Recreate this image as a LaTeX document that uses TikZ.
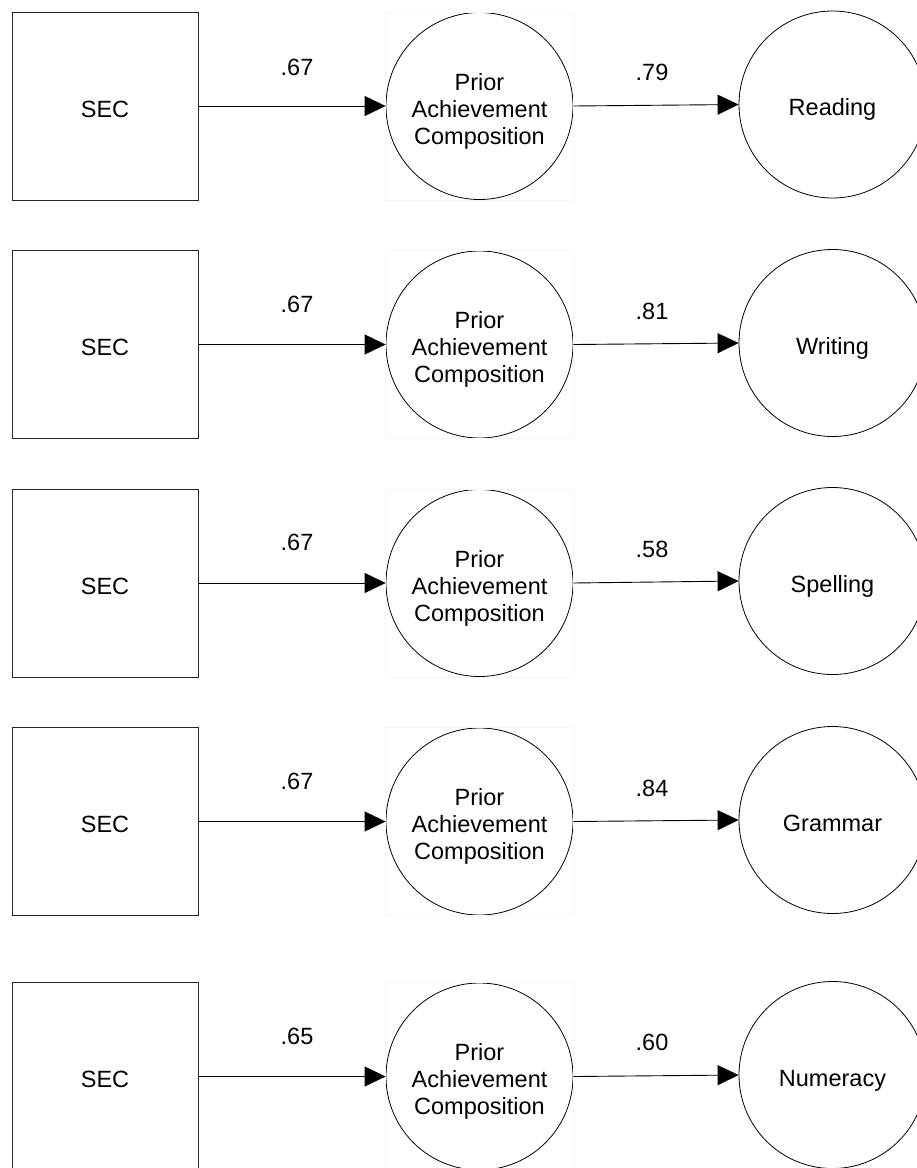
\documentclass[tikz,border=0pt]{standalone}
\usepackage{fontspec}
\setmainfont{Liberation Sans}
\usetikzlibrary{arrows.meta}
\newcommand{\lowtext}[1]{\raisebox{-6pt}[\height][\depth]{\begin{tabular}{@{}c@{}}#1\end{tabular}}}
\begin{document}
\begin{tikzpicture}[x=1pt,y=-1pt,
  every node/.style={font=\fontsize{23.5}{27}\selectfont, text=black},
  secbox/.style={draw=black!85, line width=0.9pt, minimum width=186pt, minimum height=188pt, inner sep=0pt},
  latent/.style={draw=black, circle, line width=0.8pt, minimum size=187pt, inner sep=0pt, align=center},
  faint/.style={draw=black!4, line width=0.8pt},
  path/.style={draw=black, line width=0.9pt, -{Triangle[length=21pt,width=20pt]}},
  coef/.style={font=\fontsize{23.5}{27}\selectfont}]
\useasboundingbox (0,0) rectangle (917,1168);
\foreach \i/\ys/\yr/\la/\lb/\ca/\cb/\name in {
  1/106/104.5/67/72/.67/.79/Reading,
  2/344.5/343/304/311/.67/.81/Writing,
  3/583/581/542/549/.67/.58/Spelling,
  4/821.5/820/781/788/.67/.84/Grammar,
  5/1076.5/1075/1036/1042/.65/.60/Numeracy}{
  \node[secbox] (s\i) at (105,\ys) {\lowtext{SEC}};
  \node[latent] (m\i) at (479.5,\ys) {\lowtext{Prior\\Achievement\\Composition}};
  \draw[faint] (m\i.west |- m\i.north) rectangle (m\i.east |- m\i.south);
  \node[latent] (r\i) at (832.5,\yr) {\lowtext{\name}};
  \draw[path] (s\i.east) -- (m\i.west);
  \draw[path] (m\i.east) -- (r\i.west);
  \node[coef] (a\i) at (297,\la) {\ca};
  \node[coef] (b\i) at (652,\lb) {\cb};
}
\end{tikzpicture}
\end{document}
